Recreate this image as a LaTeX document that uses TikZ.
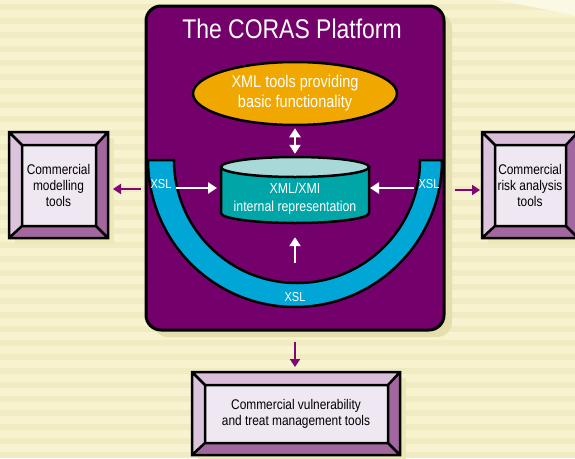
\documentclass[tikz,border=0pt]{standalone}
\usepackage{fontspec}
\setmainfont{Liberation Sans}[FakeStretch=0.85]
\usetikzlibrary{shapes.geometric,arrows.meta,calc}
\definecolor{bgy}{HTML}{F7F3CF}
\definecolor{bgstripe}{HTML}{F0EBC3}
\definecolor{bglight}{HTML}{FBF9E4}
\definecolor{platpurple}{HTML}{74006B}
\definecolor{platshadow}{HTML}{E4DFAC}
\definecolor{xmlorange}{HTML}{F0A800}
\definecolor{cyltop}{HTML}{A8D8D8}
\definecolor{cylbody}{HTML}{00A5A8}
\definecolor{xslblue}{HTML}{00A6D6}
\definecolor{bevlightc}{HTML}{D9BDD9}
\definecolor{bevleftc}{HTML}{DCC4DC}
\definecolor{bevdarkc}{HTML}{A3679F}
\definecolor{bevfacec}{HTML}{EFE7F1}
\definecolor{boxshadowc}{HTML}{EDE8B8}
\definecolor{arrpurple}{HTML}{7D0A73}
\tikzset{
  boxshadow/.style={fill=boxshadowc},
  bevlight/.style={fill=bevlightc},
  bevleft/.style={fill=bevleftc},
  bevdark/.style={fill=bevdarkc},
  bevface/.style={fill=bevfacec},
  bevline/.style={draw=black,line width=2.5pt,line join=miter},
  boxtext/.style={align=center,inner sep=0pt,font=\fontsize{14}{16}\selectfont,text=black},
  whitetext/.style={align=center,inner sep=0pt,text=white},
  warr/.style={draw=white,line width=2.5pt,-{Triangle[length=9pt,width=11pt]}},
  wdarr/.style={draw=white,line width=2.5pt,{Triangle[length=9pt,width=11pt]}-{Triangle[length=9pt,width=11pt]}},
  parr/.style={draw=arrpurple,line width=2.5pt,-{Triangle[length=8pt,width=10pt]}},
}
\newcommand{\bevbox}[6]{%
  \fill[boxshadow] (#2+6,#3+6) rectangle (#4+6,#5+6);
  \coordinate (#1-A) at (#2,#3); \coordinate (#1-B) at (#4,#3);
  \coordinate (#1-C) at (#4,#5); \coordinate (#1-D) at (#2,#5);
  \coordinate (#1-a) at (#2+13,#3+13); \coordinate (#1-b) at (#4-12,#3+13);
  \coordinate (#1-c) at (#4-12,#5-12); \coordinate (#1-d) at (#2+13,#5-12);
  \fill[bevlight] (#1-A) -- (#1-B) -- (#1-b) -- (#1-a) -- cycle;
  \fill[bevleft] (#1-A) -- (#1-a) -- (#1-d) -- (#1-D) -- cycle;
  \fill[bevdark] (#1-B) -- (#1-C) -- (#1-c) -- (#1-b) -- cycle;
  \fill[bevdark] (#1-D) -- (#1-C) -- (#1-c) -- (#1-d) -- cycle;
  \fill[bevface] (#1-a) rectangle (#1-c);
  \draw[bevline] (#1-A) rectangle (#1-C) (#1-a) rectangle (#1-c)
     (#1-A) -- (#1-a) (#1-B) -- (#1-b) (#1-C) -- (#1-c) (#1-D) -- (#1-d);
  \node[boxtext] (#1) at ($(#1-A)!0.5!(#1-C)$) {#6};
}
\begin{document}
\begin{tikzpicture}[x=1pt,y=-1pt]
\clip (0,0) rectangle (575,458);
% background
\fill[bgy] (0,0) rectangle (575,458);
\foreach \k in {0,...,33} {
  \fill[bgstripe] (0,\k*14+4) rectangle (575,\k*14+10);
}
\fill[bglight] (495,0) .. controls (530,6) and (555,11) .. (575,16) -- (575,0) -- cycle;

% platform
\fill[platshadow,rounded corners=15pt] (153,13) rectangle (452,337);
\node[draw=black,line width=3pt,fill=platpurple,rounded corners=15pt,
      minimum width=298pt,minimum height=324pt,inner sep=0pt] (platform) at (295,168) {};
\node[whitetext,anchor=base,font=\fontsize{27}{30}\selectfont] (title) at (292,38) {The CORAS Platform};

% XSL band
\path[draw=black,line width=2.5pt,fill=xslblue]
  (148,160) arc[start angle=180,end angle=0,radius=147] -- (420,160)
  arc[start angle=0,end angle=180,radius=123] -- cycle;
\node[whitetext,font=\fontsize{13}{14}\selectfont] (xslL) at (161,184) {XSL};
\node[whitetext,font=\fontsize{13}{14}\selectfont] (xslR) at (429,184) {XSL};
\node[whitetext,font=\fontsize{13}{14}\selectfont] (xslB) at (295,297) {XSL};

% XML tools ellipse
\node[ellipse,draw=black,line width=2.5pt,fill=xmlorange,minimum width=204pt,minimum height=63pt,
      inner sep=0pt,whitetext,font=\fontsize{17}{20}\selectfont] (xml) at (295,93.5)
      {XML tools providing\\basic functionality};

% cylinder
\node[minimum width=148pt,minimum height=66pt,inner sep=0pt] (db) at (295,190) {};
\path[draw=black,line width=2.5pt,fill=cylbody]
  (221,167) -- (221,213) arc[start angle=180,end angle=0,x radius=74,y radius=10] -- (369,167) -- cycle;
\path[draw=black,line width=2.5pt,fill=cyltop] (295,167) ellipse[x radius=74,y radius=10];
\node[whitetext,font=\fontsize{14.5}{18}\selectfont] (dbtext) at (295,199) {XML/XMI\\internal representation};

% white arrows
\draw[wdarr] ($(xml.south)+(0,2)$) -- ($(db.north)+(0,-3)$);
\draw[warr] (xslL.east |- 0,188) ++(4,0) -- (217,188);
\draw[warr] (xslR.west |- 0,188) ++(-4,0) -- (370,188);
\draw[warr] (295,263) -- ($(db.south)+(0,14)$);

% commercial boxes
\bevbox{leftbox}{9}{132}{108}{238}{Commercial\\modelling\\tools}
\bevbox{rightbox}{482}{132}{578}{238}{Commercial\\risk analysis\\tools}
\bevbox{botbox}{192}{372}{400}{455}{Commercial vulnerability\\and treat management tools}

% purple arrows
\draw[parr] ($(platform.west |- 0,189)+(-4,0)$) -- ($(leftbox-B |- 0,189)+(5,0)$);
\draw[parr] ($(platform.east |- 0,190)+(9,0)$) -- ($(rightbox-A |- 0,190)+(-2,0)$);
\draw[parr] ($(platform.south)+(0,10)$) -- ($(botbox-A -| platform.south)+(0,-5)$);
\end{tikzpicture}
\end{document}
